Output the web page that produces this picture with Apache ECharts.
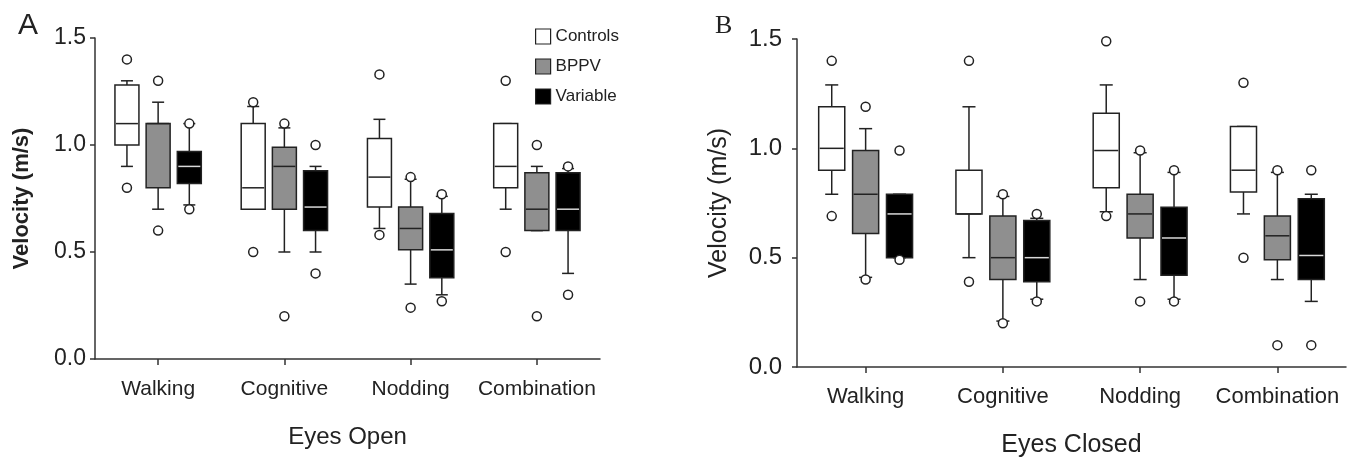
<!DOCTYPE html>
<html>
<head>
<meta charset="utf-8">
<script src="https://cdn.jsdelivr.net/npm/echarts@6/dist/echarts.min.js"></script>
<style>html,body{margin:0;padding:0;background:#fff;}#c{width:1361px;height:462px;}</style>
</head>
<body>
<div id="c"></div>
<script>
// ---- data ----
var categories = ['Walking', 'Cognitive', 'Nodding', 'Combination'];
var yTicks = [0.0, 0.5, 1.0, 1.5];
// box stats: [lower whisker, Q1, median, Q3, upper whisker]
var controlsOpen = [[0.90,1.00,1.10,1.28,1.30],[0.70,0.70,0.80,1.10,1.18],[0.61,0.71,0.85,1.03,1.12],[0.70,0.80,0.90,1.10,1.10]];
var bppvOpen     = [[0.70,0.80,1.10,1.10,1.20],[0.50,0.70,0.90,0.99,1.08],[0.35,0.51,0.61,0.71,0.84],[0.60,0.60,0.70,0.87,0.90]];
var variableOpen = [[0.72,0.82,0.90,0.97,1.10],[0.50,0.60,0.71,0.88,0.90],[0.30,0.38,0.51,0.68,0.76],[0.40,0.60,0.70,0.87,0.89]];
// outliers: [category index, value]
var controlsOpenOut = [[0,1.40],[0,0.80],[1,1.20],[1,0.50],[2,1.33],[2,0.58],[3,1.30],[3,0.50]];
var bppvOpenOut     = [[0,1.30],[0,0.60],[1,1.10],[1,0.20],[2,0.85],[2,0.24],[3,1.00],[3,0.20]];
var variableOpenOut = [[0,1.10],[0,0.70],[1,1.00],[1,0.40],[2,0.77],[2,0.27],[3,0.90],[3,0.30]];

var controlsClosed = [[0.79,0.90,1.00,1.19,1.29],[0.50,0.70,0.70,0.90,1.19],[0.71,0.82,0.99,1.16,1.29],[0.70,0.80,0.90,1.10,1.10]];
var bppvClosed     = [[0.41,0.61,0.79,0.99,1.09],[0.21,0.40,0.50,0.69,0.78],[0.40,0.59,0.70,0.79,0.98],[0.40,0.49,0.60,0.69,0.89]];
var variableClosed = [[0.50,0.50,0.70,0.79,0.79],[0.31,0.39,0.50,0.67,0.68],[0.31,0.42,0.59,0.73,0.89],[0.30,0.40,0.51,0.77,0.79]];
var controlsClosedOut = [[0,1.40],[0,0.69],[1,1.40],[1,0.39],[2,1.49],[2,0.69],[3,1.30],[3,0.50]];
var bppvClosedOut     = [[0,1.19],[0,0.40],[1,0.79],[1,0.20],[2,0.99],[2,0.30],[3,0.90],[3,0.10]];
var variableClosedOut = [[0,0.99],[0,0.49],[1,0.70],[1,0.30],[2,0.90],[2,0.30],[3,0.90],[3,0.10]];

// ---- styles ----
var INK = '#222';
var FILL = {Controls: '#ffffff', BPPV: '#8f8f8f', Variable: '#000000'};
var MED  = {Controls: '#222222', BPPV: '#222222', Variable: '#d8d8d8'};
var OFFS = {Controls: -0.247, BPPV: 0, Variable: 0.247};
var FONT = '"Liberation Sans", Arial, sans-serif';

function boxRender(name) {
  return function (params, api) {
    var cat = api.value(0);
    var band = api.size([1, 0])[0];
    var cx = api.coord([cat, 0])[0] + OFFS[name] * band;
    var w = 0.19 * band, cw = w * 0.5;
    var yMin = api.coord([cat, api.value(1)])[1];
    var yQ1 = api.coord([cat, api.value(2)])[1];
    var yMed = api.coord([cat, api.value(3)])[1];
    var yQ3 = api.coord([cat, api.value(4)])[1];
    var yMax = api.coord([cat, api.value(5)])[1];
    var ls = {stroke: INK, lineWidth: 1.5};
    return {
      type: 'group',
      children: [
        {type: 'line', shape: {x1: cx, y1: yQ3, x2: cx, y2: yMax}, style: ls},
        {type: 'line', shape: {x1: cx, y1: yQ1, x2: cx, y2: yMin}, style: ls},
        {type: 'line', shape: {x1: cx - cw / 2, y1: yMax, x2: cx + cw / 2, y2: yMax}, style: ls},
        {type: 'line', shape: {x1: cx - cw / 2, y1: yMin, x2: cx + cw / 2, y2: yMin}, style: ls},
        {type: 'rect', shape: {x: cx - w / 2, y: yQ3, width: w, height: yQ1 - yQ3},
         style: {fill: FILL[name], stroke: INK, lineWidth: 1.5}},
        {type: 'line', shape: {x1: cx - w / 2 + 1, y1: yMed, x2: cx + w / 2 - 1, y2: yMed},
         style: {stroke: MED[name], lineWidth: 1.5}}
      ]
    };
  };
}
function outRender(name) {
  return function (params, api) {
    var cat = api.value(0);
    var band = api.size([1, 0])[0];
    var cx = api.coord([cat, 0])[0] + OFFS[name] * band;
    var cy = api.coord([cat, api.value(1)])[1];
    return {type: 'circle', shape: {cx: cx, cy: cy, r: 4.5},
            style: {fill: '#fff', stroke: INK, lineWidth: 1.5}};
  };
}
function toItems(arr) { return arr.map(function (d, i) { return [i].concat(d); }); }

function boxSeries(name, arr, idx) {
  return {type: 'custom', name: name, xAxisIndex: idx, yAxisIndex: idx,
          renderItem: boxRender(name), data: toItems(arr),
          encode: {x: 0, y: [1, 2, 3, 4, 5]},
          itemStyle: {color: FILL[name], borderColor: INK}, z: 2};
}
function outSeries(name, arr, idx) {
  return {type: 'custom', name: name + ' outliers', xAxisIndex: idx, yAxisIndex: idx,
          renderItem: outRender(name), data: arr, encode: {x: 0, y: 1}, z: 3};
}

function xAx(idx, title, labelSize, nameSize, nameGap, margin) {
  return {type: 'category', gridIndex: idx, data: categories, boundaryGap: true,
          name: title, nameLocation: 'middle', nameGap: nameGap,
          nameTextStyle: {fontFamily: FONT, fontSize: nameSize, color: INK},
          axisLine: {lineStyle: {color: '#333', width: 1.5}},
          axisTick: {show: true, alignWithLabel: true, length: 6, lineStyle: {color: '#333', width: 1.5}},
          axisLabel: {interval: 0, fontFamily: FONT, fontSize: labelSize, color: INK, margin: margin},
          splitLine: {show: false}};
}
function yAx(idx, labelSize, nameSize, nameWeight, nameGap, margin) {
  return {type: 'value', gridIndex: idx, min: yTicks[0], max: yTicks[yTicks.length - 1], interval: 0.5,
          name: 'Velocity (m/s)', nameLocation: 'middle', nameGap: nameGap,
          nameTextStyle: {fontFamily: FONT, fontSize: nameSize, fontWeight: nameWeight, color: INK},
          axisLine: {show: true, lineStyle: {color: '#333', width: 1.5}},
          axisTick: {show: true, length: 5, lineStyle: {color: '#333', width: 1.5}},
          axisLabel: {fontFamily: FONT, fontSize: labelSize, color: INK, margin: margin,
                      formatter: function (v) { return v.toFixed(1); }},
          splitLine: {show: false}};
}

var chart = echarts.init(document.getElementById('c'), null, {renderer: 'canvas'});
chart.setOption({
  backgroundColor: '#fff',
  animation: false,
  title: [
    {text: 'A', left: 13, top: 6, textStyle: {fontFamily: FONT, fontSize: 30, fontWeight: 'normal', color: INK}},
    {text: 'B', left: 710, top: 8, textStyle: {fontFamily: '"Liberation Serif", "Times New Roman", serif', fontSize: 26, fontWeight: 'normal', color: INK}}
  ],
  legend: {
    orient: 'vertical', left: 530, top: 23, itemWidth: 15, itemHeight: 15, itemGap: 13,
    icon: 'rect', selectedMode: false,
    textStyle: {fontFamily: FONT, fontSize: 17, color: INK},
    data: [
      {name: 'Controls', itemStyle: {color: FILL.Controls, borderColor: INK, borderWidth: 1.2}},
      {name: 'BPPV', itemStyle: {color: FILL.BPPV, borderColor: INK, borderWidth: 1.2}},
      {name: 'Variable', itemStyle: {color: FILL.Variable, borderColor: INK, borderWidth: 1.2}}
    ]
  },
  grid: [
    {left: 95, top: 38, width: 505, height: 321, containLabel: false, outerBoundsMode: 'none'},
    {left: 797, top: 39, width: 549, height: 328, containLabel: false, outerBoundsMode: 'none'}
  ],
  xAxis: [xAx(0, 'Eyes Open', 21, 24, 66, 20), xAx(1, 'Eyes Closed', 22, 25, 66, 19)],
  yAxis: [yAx(0, 23, 22, 'bold', 62, 9), yAx(1, 24, 25, 'normal', 65, 15)],
  series: [
    boxSeries('Controls', controlsOpen, 0), boxSeries('BPPV', bppvOpen, 0), boxSeries('Variable', variableOpen, 0),
    outSeries('Controls', controlsOpenOut, 0), outSeries('BPPV', bppvOpenOut, 0), outSeries('Variable', variableOpenOut, 0),
    boxSeries('Controls', controlsClosed, 1), boxSeries('BPPV', bppvClosed, 1), boxSeries('Variable', variableClosed, 1),
    outSeries('Controls', controlsClosedOut, 1), outSeries('BPPV', bppvClosedOut, 1), outSeries('Variable', variableClosedOut, 1)
  ]
});
</script>
</body>
</html>
